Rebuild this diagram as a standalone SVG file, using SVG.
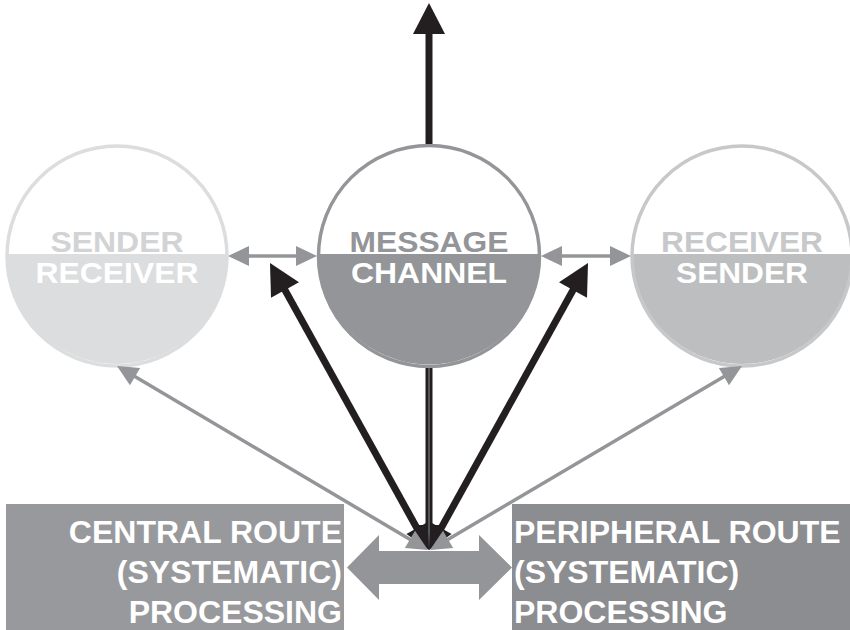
<svg xmlns="http://www.w3.org/2000/svg" width="850" height="630" viewBox="0 0 850 630">
<style>
  .lbl { font-family: "Liberation Sans", Arial, sans-serif; font-weight: bold; font-size: 32px; }
  .cl { font-family: "Liberation Sans", Arial, sans-serif; font-weight: bold; font-size: 30px; text-anchor: middle; }
  .white { fill: #ffffff; }
  .blk { fill: none; stroke: #231f20; stroke-width: 7; }
  .gry { fill: none; stroke: #939598; stroke-width: 3.5; }
</style>
<defs>
  <marker id="mBlkBig" markerUnits="userSpaceOnUse" markerWidth="31" markerHeight="32" refX="19" refY="16" orient="auto-start-reverse" overflow="visible">
    <path d="M0,0 L31,16 L0,32 Z" fill="#231f20"/>
  </marker>
  <marker id="mBlkSmall" markerUnits="userSpaceOnUse" markerWidth="25" markerHeight="24" refX="13" refY="12" orient="auto-start-reverse" overflow="visible">
    <path d="M0,0 L25,12 L0,24 Z" fill="#231f20"/>
  </marker>
  <marker id="mGray" markerUnits="userSpaceOnUse" markerWidth="21" markerHeight="20" refX="11" refY="10" orient="auto-start-reverse" overflow="visible">
    <path d="M0,0 L21,10 L0,20 Z" fill="#939598"/>
  </marker>
</defs>
<rect width="850" height="630" fill="#ffffff"/>

<g id="sender-receiver">
  <path d="M7,254 A110,110 0 1 0 227,254 Z" fill="#dcddde"/>
  <circle cx="117" cy="256" r="110" fill="none" stroke="#dcddde" stroke-width="3.5"/>
  <text class="cl" x="117" y="252" fill="#d1d3d4" textLength="133" lengthAdjust="spacingAndGlyphs">SENDER</text>
  <text class="cl white" x="117" y="283" textLength="163" lengthAdjust="spacingAndGlyphs">RECEIVER</text>
</g>

<g id="message-channel">
  <path d="M318.5,254 A110.5,110.5 0 1 0 539.5,254 Z" fill="#939598"/>
  <circle cx="429" cy="256" r="110.5" fill="none" stroke="#939598" stroke-width="3.5"/>
  <text class="cl" x="429" y="252" fill="#939598" textLength="159" lengthAdjust="spacingAndGlyphs">MESSAGE</text>
  <text class="cl white" x="429" y="283" textLength="156" lengthAdjust="spacingAndGlyphs">CHANNEL</text>
</g>

<g id="receiver-sender">
  <path d="M632,254 A110,110 0 1 0 852,254 Z" fill="#bcbec0"/>
  <circle cx="742" cy="256" r="110" fill="none" stroke="#c7c8ca" stroke-width="3.5"/>
  <text class="cl" x="742" y="252" fill="#c7c8ca" textLength="162" lengthAdjust="spacingAndGlyphs">RECEIVER</text>
  <text class="cl white" x="742" y="283" textLength="132" lengthAdjust="spacingAndGlyphs">SENDER</text>
</g>

<g id="central-route">
  <rect x="6" y="504" width="338" height="126" fill="#98999c"/>
  <text class="lbl white" text-anchor="end" x="342" y="543">CENTRAL ROUTE</text>
  <text class="lbl white" text-anchor="end" x="342" y="583">(SYSTEMATIC)</text>
  <text class="lbl white" text-anchor="end" x="342" y="623">PROCESSING</text>
</g>

<g id="peripheral-route">
  <rect x="512" y="504" width="338" height="126" fill="#8c8d90"/>
  <text class="lbl white" x="514" y="543">PERIPHERAL ROUTE</text>
  <text class="lbl white" x="514" y="583">(SYSTEMATIC)</text>
  <text class="lbl white" x="514" y="623">PROCESSING</text>
</g>

<g id="connectors">
  <path class="blk" d="M429,144 L429,15" marker-end="url(#mBlkBig)"/>
  <path class="blk" d="M429,368 L429,538" marker-end="url(#mBlkSmall)"/>
  <path d="M429,368 L429,548" stroke="#8a8b8e" stroke-width="1" fill="none"/>
  <path class="blk" d="M423.2,539.5 L275.8,273.5" marker-start="url(#mBlkSmall)" marker-end="url(#mBlkBig)"/>
  <path class="blk" d="M434.8,539.5 L582.2,273.5" marker-start="url(#mBlkSmall)" marker-end="url(#mBlkBig)"/>
  <path class="gry" d="M419.4,544.9 L125.6,371.1" marker-start="url(#mGray)" marker-end="url(#mGray)"/>
  <path class="gry" d="M438.6,544.9 L733.4,371.1" marker-start="url(#mGray)" marker-end="url(#mGray)"/>
  <path class="gry" d="M238,256 L307,256" marker-start="url(#mGray)" marker-end="url(#mGray)"/>
  <path class="gry" d="M551,256 L621,256" marker-start="url(#mGray)" marker-end="url(#mGray)"/>
  <polygon points="347,567.5 379,535 379,551 479,551 479,535 512,567.5 479,600 479,584 379,584 379,600" fill="#939598"/>
</g>
</svg>
